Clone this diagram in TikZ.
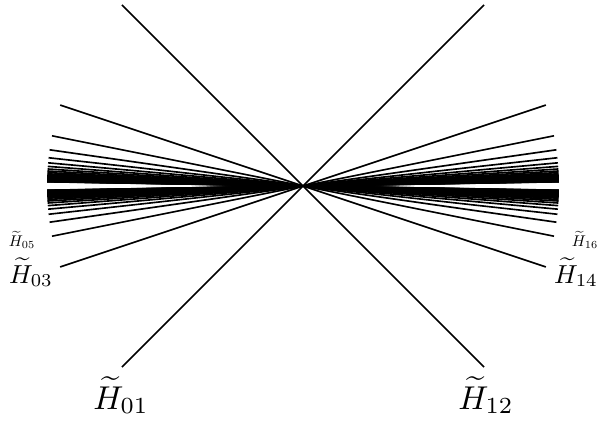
\documentclass[tikz,border=0pt]{standalone}
\begin{document}
\begin{tikzpicture}[x=1pt,y=-1pt,
  ray/.style={line width=1.65pt,black},
  lblA/.style={anchor=base,inner sep=0pt,scale=3.3},
  lblB/.style={anchor=base,inner sep=0pt,scale=2.6},
  lblC/.style={anchor=base,inner sep=0pt,scale=1.55}]
\useasboundingbox (0,0) rectangle (605,421);
\coordinate (C) at (303,186);
\foreach \n [count=\i] in {1,3,...,61} {
  \pgfmathsetmacro\ang{atan(1/\n)}
  \path (C) ++({-256*cos(\ang)},{256*sin(\ang)}) coordinate (p\i);
  \path (C) ++({256*cos(\ang)},{-256*sin(\ang)}) coordinate (q\i);
  \path (C) ++({-256*cos(\ang)},{-256*sin(\ang)}) coordinate (s\i);
  \path (C) ++({256*cos(\ang)},{256*sin(\ang)}) coordinate (t\i);
  \draw[ray] (p\i) -- (q\i);
  \draw[ray] (s\i) -- (t\i);
}
\node[lblA] (h01) at (121,409) {$\widetilde{H}_{01}$};
\node[lblA] (h12) at (486,409) {$\widetilde{H}_{12}$};
\node[lblB] (h03) at (31,283) {$\widetilde{H}_{03}$};
\node[lblB] (h14) at (576,283) {$\widetilde{H}_{14}$};
\node[lblC] (h05) at (22,246) {$\widetilde{H}_{05}$};
\node[lblC] (h16) at (585,246) {$\widetilde{H}_{16}$};
\end{tikzpicture}
\end{document}
